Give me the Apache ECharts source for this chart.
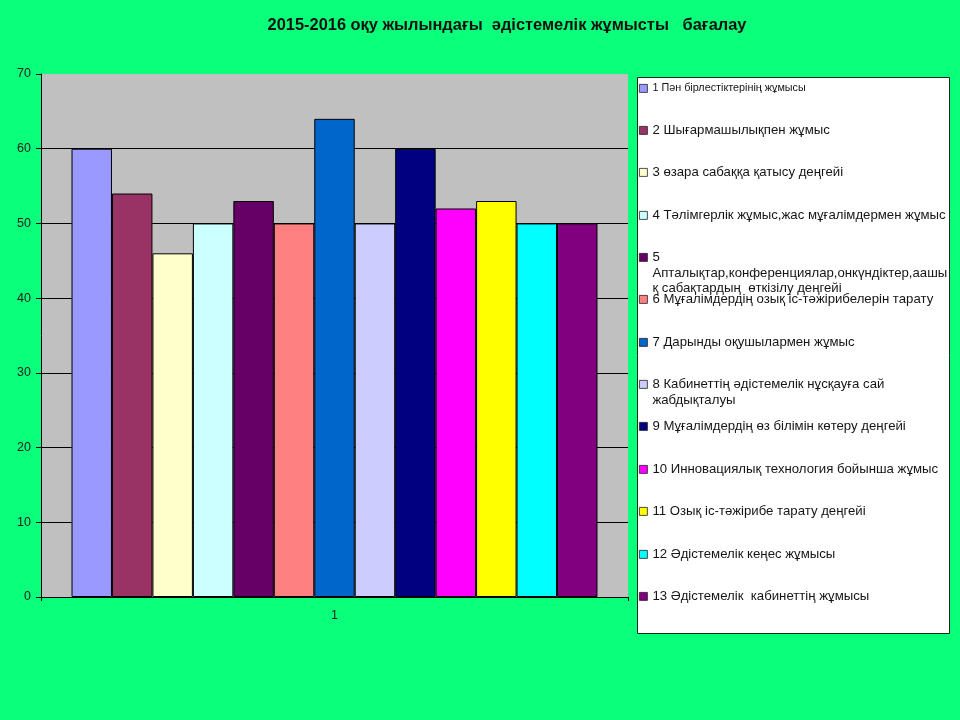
<!DOCTYPE html>
<html><head><meta charset="utf-8">
<script src="https://cdn.jsdelivr.net/npm/echarts@6/dist/echarts.min.js"></script>
<style>html,body{margin:0;padding:0;background:#0AFF7A}#c{width:960px;height:720px}</style>
</head><body><div id="c"></div>
<script>
const titleText = '2015-2016 оқу жылындағы  әдістемелік жұмысты   бағалау';
const categories = ['1'];
const seriesNames = [
  '1 Пән бірлестіктерінің жұмысы',
  '2 Шығармашылықпен жұмыс',
  '3 өзара сабаққа қатысу деңгейі',
  '4 Тәлімгерлік жұмыс,жас мұғалімдермен жұмыс',
  '5\nАпталықтар,конференциялар,онкүндіктер,аашы\nқ сабақтардың  өткізілу деңгейі',
  '6 Мұғалімдердің озық іс-тәжірибелерін тарату',
  '7 Дарынды оқушылармен жұмыс',
  '8 Кабинеттің әдістемелік нұсқауға сай\nжабдықталуы',
  '9 Мұғалімдердің өз білімін көтеру деңгейі',
  '10 Инновациялық технология бойынша жұмыс',
  '11 Озық іс-тәжірибе тарату деңгейі',
  '12 Әдістемелік кеңес жұмысы',
  '13 Әдістемелік  кабинеттің жұмысы'
];
const seriesValues = [60, 54, 46, 50, 53, 50, 64, 50, 60, 52, 53, 50, 50];
const seriesColors = ['#9999FF','#993366','#FFFFCC','#CCFFFF','#660066','#FF8080','#0066CC','#CCCCFF','#000080','#FF00FF','#FFFF00','#00FFFF','#800080'];
const yTicks = [0, 10, 20, 30, 40, 50, 60, 70];

// layout of legend entries: first-line centre y
const legendFirstLineY = [88, 130, 172, 215, 257, 299, 342, 384, 426, 469, 511, 554, 596];

const chart = echarts.init(document.getElementById('c'));
const FONT = '"Liberation Sans", Arial, sans-serif';

const legends = seriesNames.map((name, i) => {
  const small = i === 0;
  const lineH = small ? 12 : 15.5;
  const n = name.split('\n').length;
  const H = n * lineH;
  const a = lineH / 2 - 4;
  const icon = 'path://M0,' + a + 'L8,' + a + 'L8,' + (a + 8) + 'L0,' + (a + 8) + 'Z M0,0 M0,' + H;
  return {
    data: [name],
    orient: 'vertical',
    left: 639,
    top: legendFirstLineY[i] - lineH / 2,
    padding: 0,
    itemWidth: 8,
    itemHeight: H,
    icon: icon,
    selectedMode: false,
    itemStyle: { borderWidth: 0.8, borderColor: '#222' },
    textStyle: {
      fontFamily: FONT,
      fontSize: small ? 10.8 : 13.2,
      lineHeight: lineH,
      color: '#151515'
    }
  };
});

chart.setOption({
  backgroundColor: '#0AFF7A',
  animation: false,
  title: {
    text: titleText,
    left: 502,
    textAlign: 'center',
    top: 12,
    textStyle: { fontFamily: FONT, fontSize: 16.4, fontWeight: 'bold', color: '#111' }
  },
  graphic: [{
    type: 'rect',
    shape: { x: 637.5, y: 77.5, width: 312, height: 556 },
    style: { fill: '#FFFFFF', stroke: '#0b2b14', lineWidth: 1 },
    z: 0
  }],
  legend: legends,
  grid: {
    left: 41, top: 74, right: 332, bottom: 123,
    show: true, backgroundColor: '#C0C0C0', borderWidth: 0
  },
  xAxis: {
    type: 'category',
    data: categories,
    axisLine: { lineStyle: { color: '#000', width: 1 } },
    axisTick: { show: true, length: 4, lineStyle: { color: '#000' } },
    axisLabel: { fontFamily: FONT, fontSize: 12.5, color: '#222', margin: 12 }
  },
  yAxis: {
    type: 'value',
    min: yTicks[0],
    max: yTicks[yTicks.length - 1],
    interval: 10,
    axisLine: { show: true, lineStyle: { color: '#000', width: 1 } },
    axisTick: { show: true, length: 5, lineStyle: { color: '#000' } },
    axisLabel: { fontFamily: FONT, fontSize: 12.5, color: '#222', margin: 10 },
    splitLine: { show: true, showMaxLine: false, lineStyle: { color: '#000', width: 1 } }
  },
  series: seriesNames.map((name, i) => ({
    type: 'bar',
    name: name,
    data: [seriesValues[i]],
    barGap: '0%',
    barCategoryGap: '10.4%',
    itemStyle: { color: seriesColors[i], borderColor: '#000', borderWidth: 1 }
  }))
});
</script>
</body></html>
